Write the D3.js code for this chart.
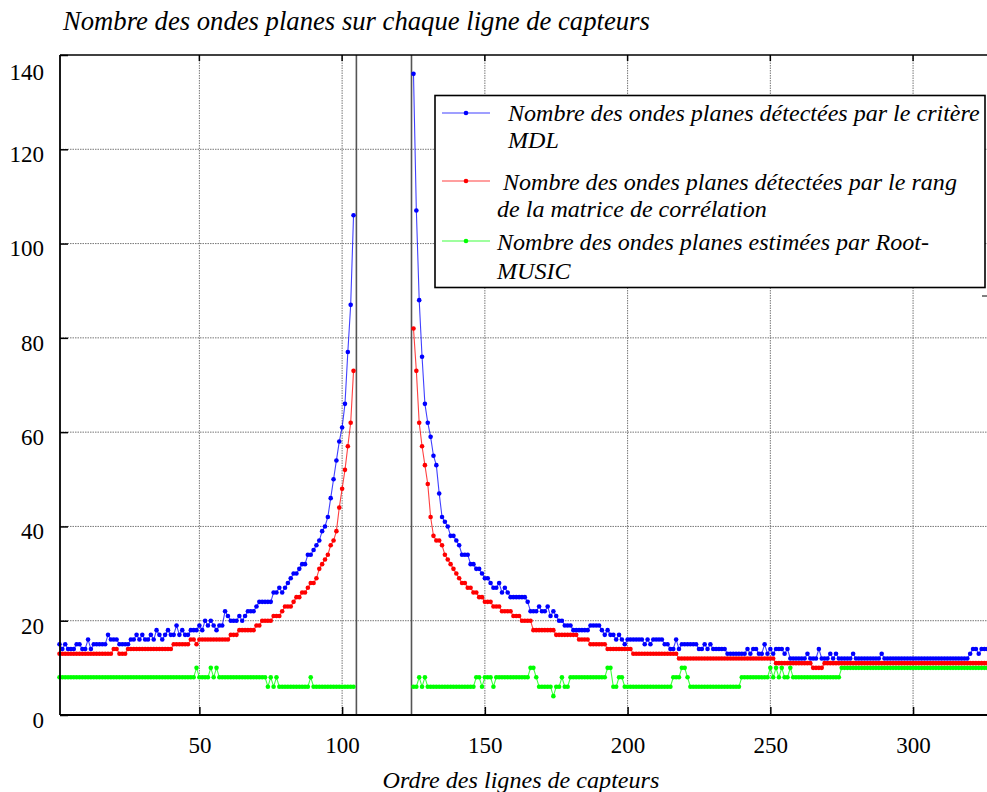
<!DOCTYPE html>
<html><head><meta charset="utf-8">
<script src="https://cdn.jsdelivr.net/npm/d3@7"></script>
<style>
html,body{margin:0;padding:0;background:#fff;}
svg{display:block;}
svg text{font-family:"Liberation Serif","Times New Roman",Times,"Nimbus Roman","DejaVu Serif",serif !important;fill:#000;}
</style></head>
<body><div id="chart"></div>
<script>
// ---- data ----
const leftStart = 1;     // first sensor line of left block
const rightStart = 125;  // first sensor line of right block
const separators = [105, 124.3];
const xTicks = [50, 100, 150, 200, 250, 300];
const yTicks = [0, 20, 40, 60, 80, 100, 120, 140];

const mdlLeft = [
 15,14,15,14,14,14,15,15,14,14,
 16,14,15,15,15,15,15,17,16,16,
 16,15,15,15,15,16,16,17,16,17,
 16,16,17,16,18,17,16,17,18,17,
 17,19,17,18,17,17,18,18,18,19,
 18,20,19,20,19,18,19,19,22,21,
 20,20,20,21,20,21,22,22,22,23,
 24,24,24,24,24,26,26,27,26,27,
 28,29,30,30,31,32,32,34,34,35,
 36,37,39,40,42,46,50,54,58,61,
 66,77,87,106];
const mdlRight = [
 136,107,88,76,66,62,59,55,53,47,
 42,41,40,38,38,37,36,34,34,34,
 32,32,31,31,30,29,29,28,27,27,
 28,26,27,26,25,25,25,25,25,25,
 24,22,22,22,23,22,22,23,21,22,
 21,20,20,19,19,19,18,18,18,18,
 18,18,19,19,19,19,18,17,18,17,
 17,16,17,16,15,16,16,16,16,16,
 16,15,16,15,16,16,16,16,15,15,
 14,14,16,14,15,15,15,15,15,15,
 14,14,15,14,15,14,14,14,14,14,
 13,13,13,13,13,13,13,14,13,14,
 14,13,13,15,13,14,13,14,14,14,
 13,14,12,12,12,12,12,12,13,12,
 12,12,14,12,12,12,13,12,13,12,
 12,12,12,12,13,12,12,12,12,12,
 12,12,12,12,13,12,12,12,12,12,
 12,12,12,12,12,12,12,12,12,12,
 12,12,12,12,12,12,12,12,12,12,
 12,12,12,12,12,13,14,14,13,14,
 14,14];

const rankLeft = [
 13,13,13,13,13,13,13,13,13,13,
 13,13,13,13,13,13,13,13,13,14,
 14,13,13,13,14,14,14,14,14,14,
 14,14,14,14,14,14,14,14,14,14,
 15,15,15,15,15,15,16,16,15,16,
 16,16,16,16,16,16,16,16,16,16,
 17,17,17,18,18,18,18,18,18,19,
 19,20,20,20,20,21,21,21,22,23,
 23,23,24,25,25,26,26,27,28,28,
 29,31,32,33,34,36,37,39,44,48,
 52,57,62,73];
const rankRight = [
 82,73,62,57,53,49,42,38,37,37,
 36,34,33,32,31,30,29,28,28,27,
 27,26,26,25,25,24,24,24,23,23,
 23,22,22,22,22,21,21,21,20,20,
 20,20,18,18,18,18,18,18,18,18,
 17,17,17,17,17,17,17,17,16,16,
 16,16,15,15,15,15,15,15,14,14,
 14,14,14,14,14,14,14,13,13,13,
 13,13,13,13,13,13,13,13,13,13,
 13,13,13,12,12,12,12,12,12,12,
 12,12,12,12,12,12,12,12,12,12,
 12,12,12,12,12,12,12,12,12,12,
 12,12,12,12,12,12,12,11,11,11,
 11,11,11,11,11,11,11,11,11,11,
 10,10,10,10,11,11,11,11,11,11,
 11,11,11,11,11,11,11,11,11,11,
 11,11,11,11,11,11,11,11,11,11,
 11,11,11,11,11,11,11,11,11,11,
 11,11,11,11,11,11,11,11,11,11,
 11,11,11,11,11,11,11,11,11,11,
 11,11];

const musicLeft = [
 8,8,8,8,8,8,8,8,8,8,
 8,8,8,8,8,8,8,8,8,8,
 8,8,8,8,8,8,8,8,8,8,
 8,8,8,8,8,8,8,8,8,8,
 8,8,8,8,8,8,8,8,10,8,
 8,8,8,10,8,10,8,8,8,8,
 8,8,8,8,8,8,8,8,8,8,
 8,8,8,6,8,6,8,6,6,6,
 6,6,6,6,6,6,6,6,8,6,
 6,6,6,6,6,6,6,6,6,6,
 6,6,6,6];
const musicRight = [
 6,6,8,6,8,6,6,6,6,6,
 6,6,6,6,6,6,6,6,6,6,
 6,6,8,8,6,8,8,8,6,8,
 8,8,8,8,8,8,8,8,8,8,
 8,10,10,8,6,6,6,6,6,4,
 6,6,8,6,6,8,8,8,8,8,
 8,8,8,8,8,8,8,8,10,10,
 6,6,8,8,6,6,6,6,6,6,
 6,6,6,6,6,6,6,6,6,6,
 6,8,8,8,10,10,8,6,6,6,
 6,6,6,6,6,6,6,6,6,6,
 6,6,6,6,6,8,8,8,8,8,
 8,8,8,8,8,10,8,10,8,10,
 8,8,10,8,8,8,8,8,8,8,
 8,8,8,8,8,8,8,8,8,8,
 10,10,10,10,10,10,10,10,10,10,
 10,10,10,10,10,10,10,10,10,10,
 10,10,10,10,10,10,10,10,10,10,
 10,10,10,10,10,10,10,10,10,10,
 10,10,10,10,10,10,10,10,10,10,
 10,10];

const seriesNames = [
  ["Nombre des ondes planes détectées par le critère", "MDL"],
  ["Nombre des ondes planes détectées par le rang", "de la matrice de corrélation"],
  ["Nombre des ondes planes estimées par Root-", "MUSIC"]
];
const seriesColors = ["#0000ff", "#ff0000", "#00ff00"];
const titleText = "Nombre des ondes planes sur chaque ligne de capteurs";
const xLabelText = "Ordre des lignes de capteurs";

// ---- layout ----
const W = 987, H = 792;
const plotL = 60, plotT = 55, plotB = 715;
const svg = d3.select("#chart").append("svg").attr("width", W).attr("height", H);

// scale a text so that its rendered width matches a target width
function fitWidth(sel, target) {
  const base = parseFloat(sel.style("font-size"));
  const len = sel.node().getComputedTextLength();
  const size = base * target / len;
  sel.style("font-size", size + "px");
  return size;
}

const x = d3.scaleLinear().domain([1, 326]).range([59.5, 987.3]);
const y = d3.scaleLinear().domain([0, 140]).range([plotB, plotT]);

// grid
const grid = svg.append("g");
grid.selectAll(null).data(xTicks).enter().append("line")
  .attr("x1", d => x(d)).attr("x2", d => x(d)).attr("y1", plotT).attr("y2", plotB)
  .attr("stroke", "#777").attr("stroke-width", 1).attr("stroke-dasharray", "1.5,1");
grid.selectAll(null).data(yTicks.filter(d => d > 0 && d < 140)).enter().append("line")
  .attr("x1", plotL).attr("x2", W).attr("y1", d => y(d)).attr("y2", d => y(d))
  .attr("stroke", "#777").attr("stroke-width", 1).attr("stroke-dasharray", "1.5,1");

// separators
svg.selectAll(null).data(separators).enter().append("line")
  .attr("x1", d => x(d)).attr("x2", d => x(d)).attr("y1", plotT).attr("y2", plotB)
  .attr("stroke", "#555").attr("stroke-width", 1.6);

// series
function seg(vals, start) { return vals.map((v, i) => ({ i: start + i, v })); }
const series = [
  [seg(mdlLeft, leftStart), seg(mdlRight, rightStart)],
  [seg(rankLeft, leftStart), seg(rankRight, rightStart)],
  [seg(musicLeft, leftStart), seg(musicRight, rightStart)]
];
const line = d3.line().x(d => x(d.i)).y(d => y(d.v));
[2, 1, 0].forEach(k => {
  const g = svg.append("g");
  series[k].forEach(s => {
    g.append("path").attr("d", line(s)).attr("fill", "none")
      .attr("stroke", seriesColors[k]).attr("stroke-width", 1.1).attr("stroke-opacity", 0.75);
    g.selectAll(null).data(s).enter().append("circle")
      .attr("cx", d => x(d.i)).attr("cy", d => y(d.v)).attr("r", 2.3)
      .attr("fill", seriesColors[k]);
  });
});

// axes (ticks inside)
const xAxis = d3.axisBottom(x).tickValues(xTicks).tickSize(-8).tickPadding(22).tickFormat(d3.format("d"));
const gx = svg.append("g").attr("transform", `translate(0,${plotB})`).call(xAxis);
gx.attr("font-family", null);
gx.select(".domain").remove();
gx.selectAll("line").attr("stroke", "#000").attr("stroke-width", 1.5);
gx.selectAll("text").style("font-size", "23px");

const yAxis = d3.axisLeft(y).tickValues(yTicks).tickSize(-8).tickPadding(16).tickFormat(d3.format("d"));
const gy = svg.append("g").attr("transform", `translate(${plotL},0)`).call(yAxis);
gy.attr("font-family", null);
gy.select(".domain").remove();
gy.selectAll("line").attr("stroke", "#000").attr("stroke-width", 1.5);
gy.selectAll("text").style("font-size", "23px")
  .attr("transform", d => `translate(0,${d === 140 ? 17 : 5})`);

// top ticks
svg.selectAll(null).data(xTicks).enter().append("line")
  .attr("x1", d => x(d)).attr("x2", d => x(d)).attr("y1", plotT).attr("y2", plotT + 6)
  .attr("stroke", "#000").attr("stroke-width", 1.5);

// frame
svg.append("line").attr("x1", plotL).attr("x2", W).attr("y1", plotT).attr("y2", plotT).attr("stroke", "#000").attr("stroke-width", 1.6);
svg.append("line").attr("x1", plotL).attr("x2", plotL).attr("y1", plotT).attr("y2", plotB).attr("stroke", "#000").attr("stroke-width", 1.8);
svg.append("line").attr("x1", plotL).attr("x2", W).attr("y1", plotB).attr("y2", plotB).attr("stroke", "#000").attr("stroke-width", 2.2);
svg.append("line").attr("x1", 982).attr("x2", 987).attr("y1", 296).attr("y2", 296).attr("stroke", "#000").attr("stroke-width", 1);

// legend
const lg = svg.append("g");
lg.append("rect").attr("x", 435).attr("y", 95.5).attr("width", 550).attr("height", 192)
  .attr("fill", "#fff").attr("stroke", "#000").attr("stroke-width", 1.6);
const legY = [113, 181, 241];
const legTextX = [[508, 508], [503, 497], [497, 497]];
const legTextY = [[121, 148], [190, 217], [250, 279]];
const legTexts = [];
seriesColors.forEach((c, k) => {
  lg.append("line").attr("x1", 442).attr("x2", 490).attr("y1", legY[k]).attr("y2", legY[k])
    .attr("stroke", c).attr("stroke-width", 1.1).attr("stroke-opacity", 0.75);
  lg.append("circle").attr("cx", 466).attr("cy", legY[k]).attr("r", 2.3).attr("fill", c);
  seriesNames[k].forEach((t, j) => {
    legTexts.push(lg.append("text").attr("x", legTextX[k][j]).attr("y", legTextY[k][j])
      .style("font-size", "20px").style("font-style", "italic").text(t));
  });
});
const legSize = fitWidth(legTexts[0], 472);
legTexts.forEach(t => t.style("font-size", legSize + "px"));

// title & axis label
const title = svg.append("text").attr("x", 63).attr("y", 30).style("font-size", "22px").style("font-style", "italic").text(titleText);
fitWidth(title, 587);
const xl = svg.append("text").attr("x", 521).attr("y", 788).attr("text-anchor", "middle")
  .style("font-size", "22px").style("font-style", "italic").text(xLabelText);
fitWidth(xl, 277);
</script>
</body></html>
